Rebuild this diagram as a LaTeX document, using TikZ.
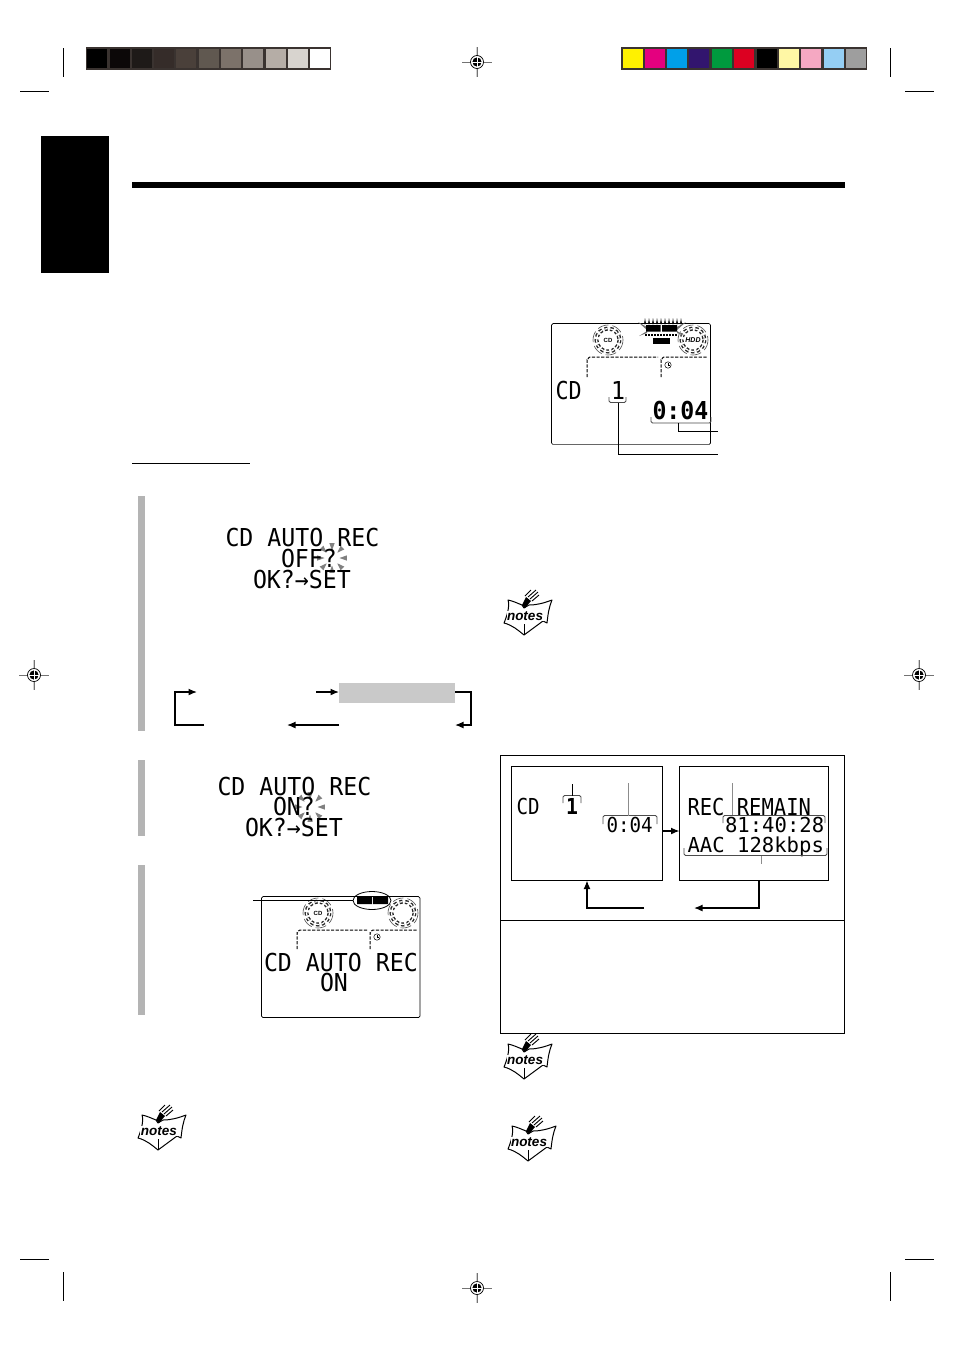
\documentclass[tikz,border=0pt]{standalone}
\usepackage{fontspec}
\usepackage{graphicx}
\usetikzlibrary{arrows.meta,calc}
\newfontfamily\lcdfont{DejaVu Sans Mono}
\newfontfamily\notesfont{Liberation Sans}
\newcommand{\lcd}[3]{{\fontsize{#1}{#1}\lcdfont\scalebox{#2}[1]{#3}}}
\newcommand{\lcdb}[3]{{\fontsize{#1}{#1}\lcdfont\bfseries\scalebox{#2}[1]{#3}}}
\definecolor{frameC}{HTML}{3A3330}
\definecolor{tabgrey}{HTML}{B4B4B4}
\definecolor{hlgrey}{HTML}{C9C9C9}
\tikzset{
  lcdtext/.style={anchor=base west,inner sep=0pt,outer sep=0pt,text=black},
  crop/.style={line width=0.7pt,black},
  conn/.style={line width=1.4pt,black,-{Latex[length=8.5pt,width=7pt]}},
  thinlead/.style={line width=0.9pt,black},
  greylead/.style={line width=1pt,black!45},
  brk/.style={line width=0.8pt,black!70,rounded corners=1.5pt},
  panel/.style={draw=black,line width=0.7pt,fill=white,rounded corners=1.5pt,inner sep=0pt,outer sep=0pt,anchor=north west},
  sqbox/.style={draw=black,line width=0.8pt,fill=white,inner sep=0pt,outer sep=0pt,anchor=north west},
  dashln/.style={line width=1pt,black,dash pattern=on 3.2pt off 1.5pt},
  regmark/.pic={
    \draw[black!18,line width=1.6pt] (0,-15)--(0,15);
    \draw[black!55,line width=0.6pt] (-15,0)--(15,0);
    \draw[black!55,line width=0.6pt] (0,-15)--(0,15);
    \draw[black,line width=0.7pt,fill=white] (0,0) circle (6.5);
    \fill[black] (0,0) circle (4.6);
    \draw[white,line width=0.9pt] (-5,0)--(5,0) (0,-5)--(0,5);
  },
  disc/.pic={
    \draw[black!85,line width=4pt,dash pattern=on 3pt off 2.6pt] (0,0) circle (11.5);
    \draw[white,line width=1.2pt,dash pattern=on 3pt off 2.6pt] (0,0) circle (11.5);
    \draw[black!70,line width=0.6pt,dash pattern=on 11pt off 4pt] (0,0) circle (15);
  },
  flashrays/.pic={
    \foreach \a in {0,45,...,315}{
      \fill[black!50] (\a:7.5) -- (\a+10:15) -- (\a-10:15) -- cycle;
    }
  },
  clockicon/.pic={
    \draw[black,line width=0.5pt] (0,0) circle (3.2);
    \draw[black,line width=0.5pt] (0,-2.2)--(0,0)--(1.8,0);
  },
  notesicon/.pic={
    \draw[black,line width=1pt,fill=white,line join=round]
      (6,8) .. controls (11,9) and (15,11) .. (20,13)
      -- (22,16) -- (27,13)
      .. controls (35,13) and (42,11) .. (50,8)
      .. controls (47,15) and (46,22) .. (45,31)
      -- (41,29) -- (22,43)
      .. controls (16,38) and (10,33) .. (2,31)
      .. controls (5,24) and (8,14) .. (6,8) -- cycle;
    \draw[black,line width=0.7pt] (22,32)--(22,43);
    \fill[black] (20,13)--(24,5)--(29,9)--(23,16)--cycle;
    \draw[black,line width=0.9pt] (23,4)--(29,-2) (26,5)--(34,-2) (28,7)--(36,0) (30,9)--(37,3);
    \node[anchor=base,inner sep=0.5pt,fill=white] at (23,28)
      {\fontsize{13.5}{13.5}\notesfont\bfseries\itshape notes};
  },
}
\begin{document}
\begin{tikzpicture}[x=1pt,y=-1pt]
\useasboundingbox (0,0) rectangle (954,1350);
\fill[white] (0,0) rectangle (954,1350);

% grey scale strip
\fill[frameC] (86,47) rectangle (331,70);
\foreach \xx/\cc in {87/000000,110/0C0808,132/1E1A18,154/352C29,176/4A403A,199/605850,221/7C726A,243/98908A,266/B5ADA6,288/D8D4CF,310/FFFFFF}{
  \definecolor{sw}{HTML}{\cc}
  \fill[sw] (\xx,49) rectangle (\xx+19.5,68);
}
% colour strip
\fill[frameC] (621,47) rectangle (867,70);
\foreach \xx/\cc in {623/FFF100,645/E4007F,667/00A0E9,689/32156E,712/009A3E,734/DC0021,757/000000,779/FFF7A5,801/F5A8C2,824/95CEF3,846/9E9E9E}{
  \definecolor{sw}{HTML}{\cc}
  \fill[sw] (\xx,49) rectangle (\xx+19.5,68);
}

% crop marks
\draw[crop] (63,48)--(63,77) (20,91)--(49,91);
\draw[crop] (890,48)--(890,77) (905,91)--(934,91);
\draw[crop] (63,1272)--(63,1301) (20,1259)--(49,1259);
\draw[crop] (890,1272)--(890,1301) (905,1259)--(934,1259);

% registration
\pic at (477,62) {regmark};
\pic at (477,1288) {regmark};
\pic at (34,675) {regmark};
\pic at (919,675) {regmark};

% tab, rule, underline
\fill[black] (41,136) rectangle (109,273);
\fill[black] (132,182) rectangle (845,188);
\draw[black,line width=0.8pt] (132,463.5)--(250,463.5);

% step bars
\fill[tabgrey] (138,496) rectangle (145,731);
\fill[tabgrey] (138,760) rectangle (145,836);
\fill[tabgrey] (138,865) rectangle (145,1015);

% display top right
\node[panel,minimum width=159pt,minimum height=121pt] (dispA) at (551.5,323.5) {};
\draw[black!60,line width=1pt] ([xshift=1pt]dispA.south west)--([xshift=-1pt]dispA.south east);
\pic at (608,340) {disc};
\pic at (693,340) {disc};
\node[inner sep=0pt] (dispAcd) at (608,340) {\fontsize{6}{6}\notesfont\bfseries CD};
\node[inner sep=0pt] (dispAhd) at (693,340) {\fontsize{7}{7}\notesfont\bfseries\itshape HDD};
\foreach \xx in {645,649,...,681}{\fill[black] (\xx-1,324)--(\xx+1,324)--(\xx,318)--cycle;}
\fill[black!55] (647,327)--(638,322)--(647,330)--cycle (677,327)--(686,322)--(677,330)--cycle;
\fill[black!55] (647,331)--(639,336)--(647,333)--cycle (677,331)--(685,336)--(677,333)--cycle;
\fill[black] (646,325) rectangle (660.5,331.5) (662,325) rectangle (677,331.5);
\draw[black,line width=1.3pt,dash pattern=on 2pt off 1pt] (645,335)--(678,335);
\fill[black] (653,338) rectangle (670,344);
\draw[dashln] (587,377)--(587,360) to[out=-90,in=180] (590,357)--(658,357);
\draw[dashln] (661,377)--(661,360) to[out=-90,in=180] (664,357)--(708,357);
\pic at (668,365) {clockicon};
\node[lcdtext] (aCD) at (555.5,399) {\lcd{24.7}{0.88}{CD}};
\node[lcdtext] (aOne) at (611,399) {\lcd{24.7}{0.94}{1}};
\node[lcdtext] (aTime) at (652.5,419) {\lcdb{24.7}{0.94}{0:04}};
\draw[brk] (609,397)--(609,402.5)--(626,402.5)--(626,397);
\draw[brk] (651,417)--(651,423)--(711,423)--(711,417);
\coordinate (aLabT) at (718,431);
\coordinate (aLabN) at (718,454);
\draw[thinlead] (678,423)--(678,431)--(aLabT);
\draw[thinlead] (618,403)--(618,454)--(aLabN);

% step 1 LCD
\pic at (332,558) {flashrays};
\node[lcdtext] (s1a) at (225.5,546) {\lcd{24.7}{0.94}{CD AUTO REC}};
\node[lcdtext] (s1b) at (281,567) {\lcd{24.7}{0.94}{OFF?}};
\node[lcdtext] (s1c) at (253,588) {\lcd{24.7}{0.94}{OK?→SET}};

% cycle arrows step 1
\node[fill=hlgrey,inner sep=0pt,outer sep=0pt,anchor=north west,minimum width=116pt,minimum height=20pt] (hl) at (339,683) {};
\coordinate (cA) at (204,725);
\coordinate (cB) at (197,692);
\coordinate (cC) at (316,692);
\coordinate (cD) at (455,725);
\coordinate (cE) at (287,725);
\draw[conn] (cA)--(175,725)--(175,692)--(cB);
\draw[conn] (cC)--(hl.west |- cC);
\draw[conn] (hl.east |- cC)--(471,692)--(471,725)--(cD);
\draw[conn] (hl.west |- cD)--(cE);

% step 2 LCD
\pic at (310,807) {flashrays};
\node[lcdtext] (s2a) at (217.5,795) {\lcd{24.7}{0.94}{CD AUTO REC}};
\node[lcdtext] (s2b) at (273,815) {\lcd{24.7}{0.94}{ON?}};
\node[lcdtext] (s2c) at (245,836) {\lcd{24.7}{0.94}{OK?→SET}};

% step 3 display
\node[panel,minimum width=158.5pt,minimum height=121pt] (dispB) at (261.5,896.5) {};
\pic at (318,913) {disc};
\pic at (403,913) {disc};
\node[inner sep=0pt] (dispBcd) at (318,913) {\fontsize{6}{6}\notesfont\bfseries CD};
\fill[black] (357,897) rectangle (371.8,904) (372.8,897) rectangle (388,904);
\draw[black,line width=0.8pt] (372,900.5) ellipse (19 and 9);
\coordinate (bLab) at (253,900);
\draw[thinlead] (bLab)--(353,900);
\draw[dashln] (297,949)--(297,933) to[out=-90,in=180] (300,930)--(367,930);
\draw[dashln] (370,949)--(370,933) to[out=-90,in=180] (373,930)--(418,930);
\pic at (377,937) {clockicon};
\node[lcdtext] (s3a) at (264,971) {\lcd{24.7}{0.94}{CD AUTO REC}};
\node[lcdtext] (s3b) at (320,991) {\lcd{24.7}{0.94}{ON}};

% framed box right
\draw[black,line width=0.8pt] (500.5,755.5) rectangle (844.5,1033.5);
\draw[black,line width=0.8pt] (500.5,920.5)--(844.5,920.5);
\node[sqbox,minimum width=151pt,minimum height=114pt] (boxL) at (511.5,766.5) {};
\node[sqbox,minimum width=149pt,minimum height=114pt] (boxR) at (679.5,766.5) {};
\node[lcdtext] (lCD) at (516.5,814) {\lcd{22}{0.87}{CD}};
\node[lcdtext] (lOne) at (566,814) {\lcdb{22}{0.9}{1}};
\draw[brk] (563,803)--(563,795.5)--(581,795.5)--(581,803);
\draw[thinlead,line width=0.6pt] (572,784)--(572,795.5);
\node[lcdtext] (lTime) at (606.5,832) {\lcd{20.6}{0.93}{0:04}};
\draw[brk] (603,824)--(603,815.5)--(657,815.5)--(657,824);
\draw[greylead] (628,783)--(628,815.5);
\node[lcdtext] (rA) at (687.5,815) {\lcd{23.3}{0.88}{REC REMAIN}};
\draw[greylead] (732,783)--(732,815);
\node[lcdtext] (rB) at (725,832) {\lcd{20.6}{1.0}{81:40:28}};
\draw[brk] (723,823)--(723,815.5)--(825,815.5)--(825,823);
\node[lcdtext] (rC) at (687.5,852) {\lcd{20.6}{1.0}{AAC 128kbps}};
\draw[brk] (684,848)--(684,855.5)--(827,855.5)--(827,848);
\draw[greylead] (761,856)--(761,864);
\draw[conn] (boxL.east |- 0,831)--(boxR.west |- 0,831);
\coordinate (dA) at (694,908);
\coordinate (dB) at (644,908);
\draw[conn] (boxR.south -| 759,0)--(759,908)--(dA);
\draw[conn] (dB)--(587,908)--(boxL.south -| 587,0);

% notes icons
\pic at (136,1107) {notesicon};
\pic at (502,592) {notesicon};
\pic at (502,1036) {notesicon};
\pic at (506,1118) {notesicon};
\end{tikzpicture}
\end{document}
